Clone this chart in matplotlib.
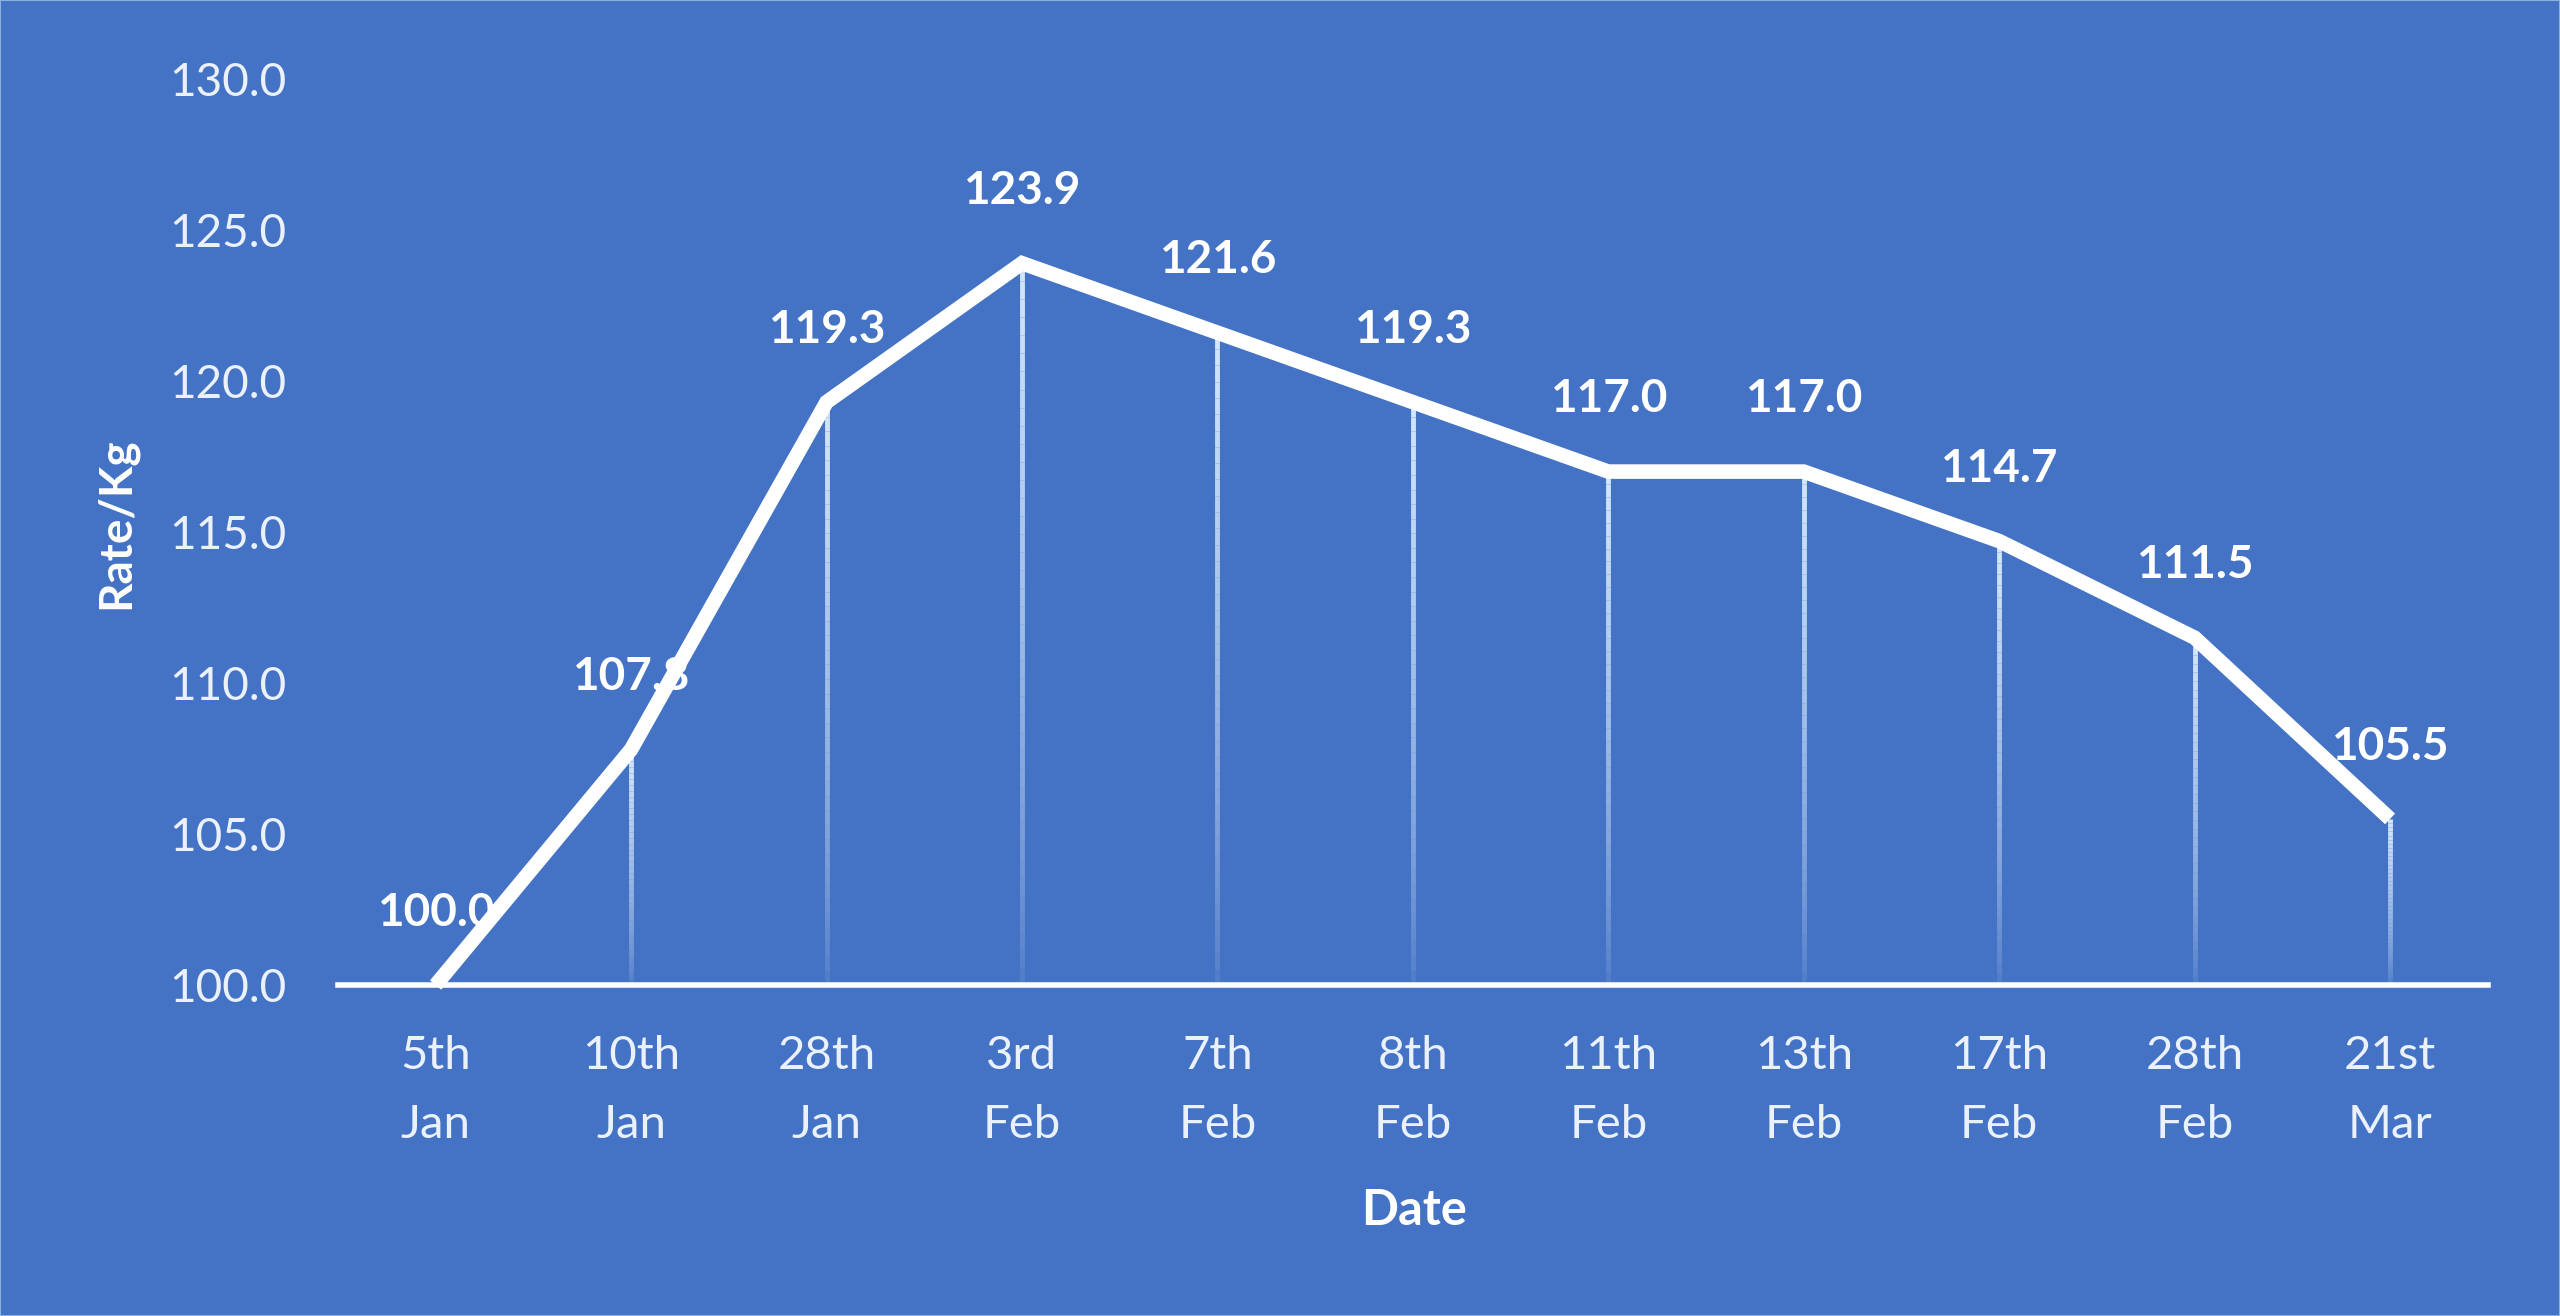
import numpy as np
import matplotlib
matplotlib.use("Agg")
import matplotlib.pyplot as plt
from matplotlib.collections import LineCollection
from matplotlib.patches import Rectangle

# ---- data ----
dates = ["5th\nJan", "10th\nJan", "28th\nJan", "3rd\nFeb", "7th\nFeb", "8th\nFeb",
         "11th\nFeb", "13th\nFeb", "17th\nFeb", "28th\nFeb", "21st\nMar"]
rates = [100.0, 107.8, 119.3, 123.9, 121.6, 119.3, 117.0, 117.0, 114.7, 111.5, 105.5]
y_ticks = [100.0, 105.0, 110.0, 115.0, 120.0, 125.0, 130.0]

BG = "#4472C4"
plt.rcParams['font.family'] = ['Lato', 'DejaVu Sans']

fig = plt.figure(figsize=(25.6, 13.16), dpi=100, facecolor=BG)
ax = fig.add_axes([0.1320, 0.2515, 0.8398, 0.6885])
ax.set_facecolor(BG)

x = np.arange(len(rates))
ymin = y_ticks[0]

# gradient drop lines
segs, cols = [], []
n = 40
for xi, yi in zip(x, rates):
    if yi <= ymin:
        continue
    edges = np.linspace(ymin, yi, n + 1)
    for k in range(n):
        segs.append([(xi, edges[k]), (xi, edges[k + 1])])
        a = 0.05 + 0.9 * ((k + 0.5) / n) ** 0.7
        cols.append((0.86, 0.93, 1.0, a))
lc = LineCollection(segs, colors=cols, linewidths=3.5, capstyle='butt', zorder=2)
ax.add_collection(lc)

# main line
ax.plot(x, rates, color="white", lw=10.5, solid_joinstyle='miter',
        solid_capstyle='butt', zorder=5, clip_on=False)

# data labels (under the line)
for xi, yi in zip(x, rates):
    ax.annotate(f"{yi:.1f}", (xi, yi), xytext=(0, 52), textcoords="offset points",
                ha="center", va="center", color="white", fontsize=33,
                fontweight="bold", zorder=3)

ax.set_xlim(-0.5, len(rates) - 0.5)
ax.set_ylim(y_ticks[0], y_ticks[-1])
ax.set_yticks(y_ticks)
ax.set_yticklabels([f"{v:.1f}" for v in y_ticks])
ax.set_xticks(x)
ax.set_xticklabels(dates, linespacing=1.78)

for s in ["top", "right", "left"]:
    ax.spines[s].set_visible(False)
ax.spines["bottom"].set_color("white")
ax.spines["bottom"].set_linewidth(4)
ax.spines["bottom"].set_zorder(6)

ax.tick_params(axis="y", length=0, pad=37, labelsize=33, labelcolor="#EAF1FB")
ax.tick_params(axis="x", length=0, pad=36, labelsize=34, labelcolor="#EAF1FB")

fig.text(0.0453, 0.6026, "Rate/Kg", rotation=90, ha="center", va="center",
         color="white", fontsize=33, fontweight="bold")
fig.text(0.5523, 0.0805, "Date", ha="center", va="center",
         color="white", fontsize=35, fontweight="bold")

fig.patches.append(Rectangle((0, 0), 1, 1, transform=fig.transFigure, fill=False,
                             edgecolor="#8FAEE0", lw=1.5))

fig.savefig("out.png", dpi=100, facecolor=BG)
